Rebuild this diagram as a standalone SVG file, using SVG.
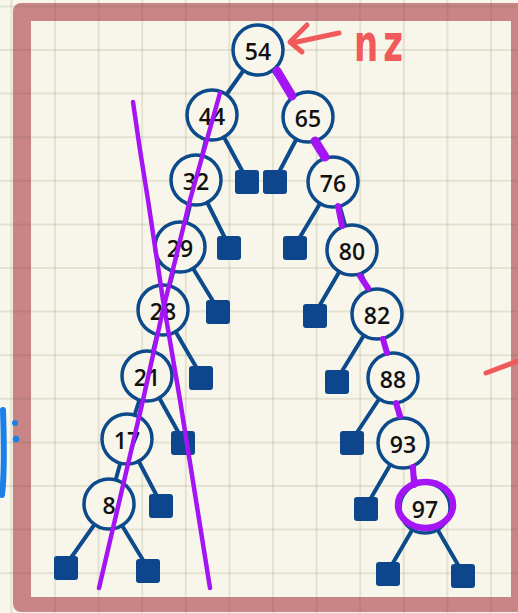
<svg xmlns="http://www.w3.org/2000/svg" width="518" height="613" viewBox="0 0 518 613">
<defs>
<style>
.edge{stroke:#0d4a8c;stroke-width:4;stroke-linecap:round;fill:none}
.node circle{fill:#f8f6ea;stroke:#0d4a8c;stroke-width:3.5}
.node text{font-family:"Open Sans","DejaVu Sans",sans-serif;font-size:23px;font-weight:600;fill:#111;text-anchor:middle;dominant-baseline:central}
.leaf rect{fill:#0d468c}
.grid line{stroke:#5a5020;stroke-opacity:0.12;stroke-width:2}
.pen{stroke:#a414f5;fill:none;stroke-linecap:round;stroke-linejoin:round}
.red{stroke:#f05a5a;fill:none;stroke-width:5;stroke-linecap:round;stroke-linejoin:round}
</style>
</defs>
<rect width="518" height="613" fill="#f8f6ea"/>
<path d="M21,3 H540 V612 H21 A8,8 0 0 1 13,604 V11 A8,8 0 0 1 21,3 Z M31,21 V597 H511 V21 Z" fill="#c98585" fill-rule="evenodd"/>
<g class="grid">
<line x1="11.4" y1="0" x2="11.4" y2="613"/><line x1="55" y1="0" x2="55" y2="613"/><line x1="98.6" y1="0" x2="98.6" y2="613"/><line x1="142.2" y1="0" x2="142.2" y2="613"/><line x1="185.8" y1="0" x2="185.8" y2="613"/><line x1="229.4" y1="0" x2="229.4" y2="613"/><line x1="273" y1="0" x2="273" y2="613"/><line x1="316.6" y1="0" x2="316.6" y2="613"/><line x1="360.2" y1="0" x2="360.2" y2="613"/><line x1="403.8" y1="0" x2="403.8" y2="613"/><line x1="447.4" y1="0" x2="447.4" y2="613"/><line x1="491" y1="0" x2="491" y2="613"/>
<line x1="0" y1="6.4" x2="518" y2="6.4"/><line x1="0" y1="50" x2="518" y2="50"/><line x1="0" y1="93.6" x2="518" y2="93.6"/><line x1="0" y1="137.2" x2="518" y2="137.2"/><line x1="0" y1="180.8" x2="518" y2="180.8"/><line x1="0" y1="224.4" x2="518" y2="224.4"/><line x1="0" y1="268" x2="518" y2="268"/><line x1="0" y1="311.6" x2="518" y2="311.6"/><line x1="0" y1="355.2" x2="518" y2="355.2"/><line x1="0" y1="398.8" x2="518" y2="398.8"/><line x1="0" y1="442.4" x2="518" y2="442.4"/><line x1="0" y1="486" x2="518" y2="486"/><line x1="0" y1="529.6" x2="518" y2="529.6"/><line x1="0" y1="573.2" x2="518" y2="573.2"/>
</g>
<g id="connectors">
<line class="edge" x1="258" y1="50" x2="212" y2="115"/>
<line class="edge" x1="258" y1="50" x2="308" y2="117"/>
<line class="edge" x1="212" y1="115" x2="196" y2="180"/>
<line class="edge" x1="212" y1="115" x2="245" y2="176"/>
<line class="edge" x1="308" y1="117" x2="277" y2="176"/>
<line class="edge" x1="308" y1="117" x2="333" y2="182"/>
<line class="edge" x1="196" y1="180" x2="180" y2="247"/>
<line class="edge" x1="196" y1="180" x2="227" y2="242"/>
<line class="edge" x1="333" y1="182" x2="297" y2="242"/>
<line class="edge" x1="333" y1="182" x2="352" y2="250"/>
<line class="edge" x1="180" y1="247" x2="163" y2="310"/>
<line class="edge" x1="180" y1="247" x2="216" y2="306"/>
<line class="edge" x1="352" y1="250" x2="317" y2="310"/>
<line class="edge" x1="352" y1="250" x2="377" y2="314"/>
<line class="edge" x1="163" y1="310" x2="147" y2="376"/>
<line class="edge" x1="163" y1="310" x2="199" y2="372"/>
<line class="edge" x1="377" y1="314" x2="339" y2="376"/>
<line class="edge" x1="377" y1="314" x2="393" y2="378"/>
<line class="edge" x1="147" y1="376" x2="127" y2="439"/>
<line class="edge" x1="147" y1="376" x2="181" y2="437"/>
<line class="edge" x1="393" y1="378" x2="354" y2="437"/>
<line class="edge" x1="393" y1="378" x2="403" y2="443"/>
<line class="edge" x1="127" y1="439" x2="109" y2="504"/>
<line class="edge" x1="127" y1="439" x2="159" y2="500"/>
<line class="edge" x1="403" y1="443" x2="368" y2="503"/>
<line class="edge" x1="403" y1="443" x2="425" y2="508"/>
<line class="edge" x1="109" y1="504" x2="68" y2="562"/>
<line class="edge" x1="109" y1="504" x2="146" y2="565"/>
<line class="edge" x1="425" y1="508" x2="390" y2="568"/>
<line class="edge" x1="425" y1="508" x2="461" y2="570"/>
</g>
<g id="leaves" class="leaf">
<rect id="leaf1" x="235" y="170" width="24" height="24" rx="3"/>
<rect id="leaf2" x="263" y="170" width="24" height="24" rx="3"/>
<rect id="leaf3" x="217" y="236" width="24" height="24" rx="3"/>
<rect id="leaf4" x="283" y="236" width="24" height="24" rx="3"/>
<rect id="leaf5" x="206" y="300" width="24" height="24" rx="3"/>
<rect id="leaf6" x="303" y="304" width="24" height="24" rx="3"/>
<rect id="leaf7" x="189" y="366" width="24" height="24" rx="3"/>
<rect id="leaf8" x="325" y="370" width="24" height="24" rx="3"/>
<rect id="leaf9" x="171" y="431" width="24" height="24" rx="3"/>
<rect id="leaf10" x="340" y="431" width="24" height="24" rx="3"/>
<rect id="leaf11" x="149" y="494" width="24" height="24" rx="3"/>
<rect id="leaf12" x="354" y="497" width="24" height="24" rx="3"/>
<rect id="leaf13" x="54" y="556" width="24" height="24" rx="3"/>
<rect id="leaf14" x="136" y="559" width="24" height="24" rx="3"/>
<rect id="leaf15" x="376" y="562" width="24" height="24" rx="3"/>
<rect id="leaf16" x="451" y="564" width="24" height="24" rx="3"/>
</g>
<g id="n54" class="node"><circle cx="258" cy="50" r="25"/><text x="258" y="51">54</text></g>
<g id="n44" class="node"><circle cx="212" cy="115" r="25"/><text x="212" y="116">44</text></g>
<g id="n65" class="node"><circle cx="308" cy="117" r="25"/><text x="308" y="118">65</text></g>
<g id="n32" class="node"><circle cx="196" cy="180" r="25"/><text x="196" y="181">32</text></g>
<g id="n76" class="node"><circle cx="333" cy="182" r="25"/><text x="333" y="183">76</text></g>
<g id="n29" class="node"><circle cx="180" cy="247" r="25"/><text x="180" y="248">29</text></g>
<g id="n80" class="node"><circle cx="352" cy="250" r="25"/><text x="352" y="251">80</text></g>
<g id="n28" class="node"><circle cx="163" cy="310" r="25"/><text x="163" y="311">28</text></g>
<g id="n82" class="node"><circle cx="377" cy="314" r="25"/><text x="377" y="315">82</text></g>
<g id="n21" class="node"><circle cx="147" cy="376" r="25"/><text x="147" y="377">21</text></g>
<g id="n88" class="node"><circle cx="393" cy="378" r="25"/><text x="393" y="379">88</text></g>
<g id="n17" class="node"><circle cx="127" cy="439" r="25"/><text x="127" y="440">17</text></g>
<g id="n93" class="node"><circle cx="403" cy="443" r="25"/><text x="403" y="444">93</text></g>
<g id="n8" class="node"><circle cx="109" cy="504" r="25"/><text x="109" y="505">8</text></g>
<g id="n97" class="node"><circle cx="425" cy="508" r="25"/><text x="425" y="509">97</text></g>
<g id="annotations">
<path class="pen" stroke-width="9" d="M277,71 L292,96"/>
<path class="pen" stroke-width="9" d="M315,141 L325,157"/>
<path class="pen" stroke-width="6" d="M338,206 L342,226"/>
<path class="pen" stroke-width="6" d="M360,276 L368,288"/>
<path class="pen" stroke-width="6" d="M383,339 L387,353"/>
<path class="pen" stroke-width="6" d="M396,403 L400,416"/>
<path class="pen" stroke-width="6" d="M413,467 L414,485"/>
<ellipse class="pen" stroke-width="6.5" cx="425.5" cy="505" rx="27.5" ry="23"/>
<path class="pen" stroke-width="4.5" d="M220,93 L190,200 L163,310 L143,400 L99,588"/>
<path class="pen" stroke-width="4.5" d="M133,102 L140,150 L148,200 L163,300 L180,400 L210,588"/>
<path class="red" d="M339,33 L292,43 M307,25 L290,42 L302,52"/>
<text transform="translate(354,61) scale(1,1.5)" font-family="'DejaVu Sans',sans-serif" font-weight="bold" font-size="34" fill="#f05a5a" letter-spacing="5">nz</text>
<path class="red" d="M486,373 L518,361"/>
<path d="M3,410 C4,440 5,470 2,495" stroke="#1a7fe8" stroke-width="6" fill="none" stroke-linecap="round"/>
<circle cx="15" cy="423" r="3" fill="#1a7fe8"/>
<circle cx="16" cy="439" r="3.3" fill="#1a7fe8"/>
</g>
</svg>
